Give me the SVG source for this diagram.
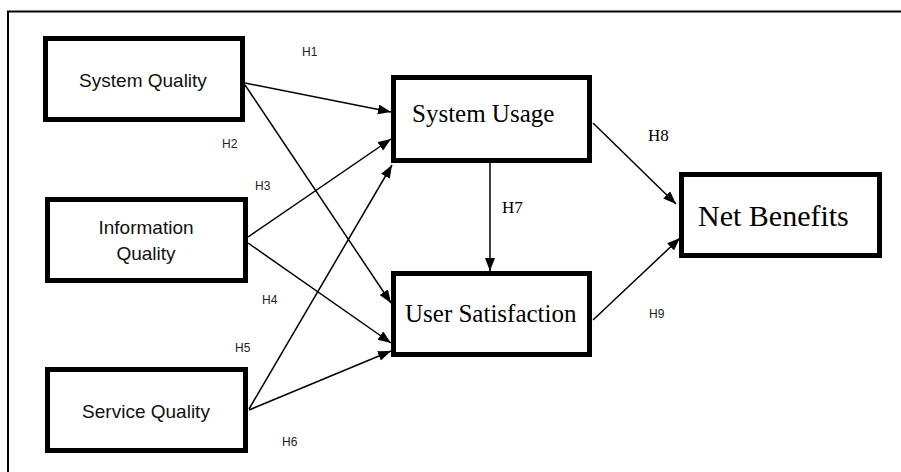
<svg xmlns="http://www.w3.org/2000/svg" width="901" height="472" viewBox="0 0 901 472">
<style>
.box{fill:#fff;stroke:#000;stroke-width:5}
.cal{font-family:"Liberation Sans","Noto Sans",sans-serif;fill:#111}
.tim{font-family:"Liberation Serif","DejaVu Serif",serif;fill:#000}
.hl{font-family:"Liberation Sans","Noto Sans",sans-serif;font-size:12px;fill:#222}
.ht{font-family:"Liberation Serif","DejaVu Serif",serif;font-size:17px;fill:#000}
.conn line{stroke:#000;stroke-width:1.5;marker-end:url(#arr)}
</style>
<defs>
<marker id="arr" markerUnits="userSpaceOnUse" markerWidth="14" markerHeight="12" refX="13" refY="5" orient="auto">
<path d="M0,0 L13,5 L0,10 Z" fill="#000"/>
</marker>
</defs>
<rect width="901" height="472" fill="#fff"/>
<path d="M8,472 V11.5 H901" fill="none" stroke="#000" stroke-width="2"/>
<g class="conn" id="connectors">
<line x1="245" y1="83" x2="391" y2="112"/>
<line x1="245" y1="85" x2="391" y2="303"/>
<line x1="248" y1="237" x2="391" y2="139"/>
<line x1="248" y1="243" x2="391" y2="343"/>
<line x1="249" y1="409" x2="392" y2="165"/>
<line x1="249" y1="410" x2="391" y2="351"/>
<line x1="490" y1="163" x2="490" y2="271"/>
<line x1="593" y1="123" x2="676" y2="204"/>
<line x1="593" y1="320" x2="680" y2="238"/>
</g>
<g id="system-quality">
<rect class="box" x="45.5" y="38.5" width="197" height="81"/>
<text class="cal" x="143" y="87" font-size="19" text-anchor="middle">System Quality</text>
</g>
<g id="information-quality">
<rect class="box" x="47.5" y="199.5" width="198" height="81"/>
<text class="cal" x="146" y="234" font-size="19" text-anchor="middle">Information</text>
<text class="cal" x="146" y="260" font-size="19" text-anchor="middle">Quality</text>
</g>
<g id="service-quality">
<rect class="box" x="47.5" y="369.5" width="198" height="81"/>
<text class="cal" x="146" y="418" font-size="19" text-anchor="middle">Service Quality</text>
</g>
<g id="system-usage">
<rect class="box" x="393.5" y="77.5" width="196" height="83"/>
<text class="tim" x="412" y="122" font-size="25">System Usage</text>
</g>
<g id="user-satisfaction">
<rect class="box" x="393.5" y="273.5" width="196" height="81"/>
<text class="tim" x="405" y="322" font-size="25">User Satisfaction</text>
</g>
<g id="net-benefits">
<rect class="box" x="681.5" y="174.5" width="198" height="81"/>
<text class="tim" x="698" y="226" font-size="30">Net Benefits</text>
</g>
<g id="labels">
<text class="hl" x="302" y="56">H1</text>
<text class="hl" x="222" y="148">H2</text>
<text class="hl" x="255" y="190">H3</text>
<text class="hl" x="262" y="304">H4</text>
<text class="hl" x="235" y="352">H5</text>
<text class="hl" x="282" y="446">H6</text>
<text class="ht" x="502" y="213">H7</text>
<text class="ht" x="648" y="141">H8</text>
<text class="hl" x="649" y="318" fill="#555">H9</text>
</g>
</svg>
